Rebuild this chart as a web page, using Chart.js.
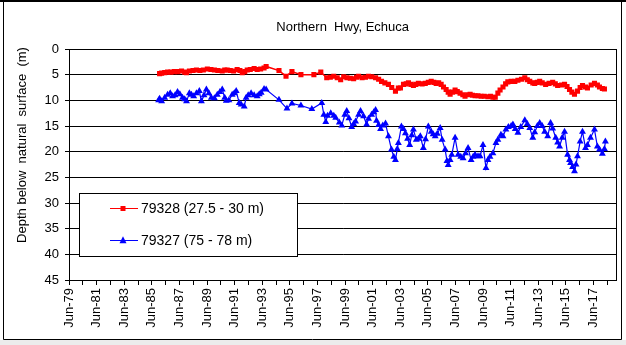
<!DOCTYPE html>
<html>
<head>
<meta charset="utf-8">
<script src="https://cdn.jsdelivr.net/npm/chart.js"></script>
<style>
  html, body { margin: 0; padding: 0; background: #fff; }
  #wrap { width: 626px; height: 345px; }
</style>
</head>
<body>
<div id="wrap"><canvas id="depthChart" width="626" height="345"></canvas></div>
<script>
// chart text
const chartTitle = 'Northern  Hwy, Echuca';
const yTitle = 'Depth below  natural  surface  (m)';
const xTickLabels = ['Jun-79', 'Jun-81', 'Jun-83', 'Jun-85', 'Jun-87', 'Jun-89', 'Jun-91', 'Jun-93',
  'Jun-95', 'Jun-97', 'Jun-99', 'Jun-01', 'Jun-03', 'Jun-05', 'Jun-07', 'Jun-09', 'Jun-11',
  'Jun-13', 'Jun-15', 'Jun-17'];
const yTicks = [0, 5, 10, 15, 20, 25, 30, 35, 40, 45];

// bore 79328 (27.5 - 30 m), decimal years and depth (m)
const redName = '79328 (27.5 - 30 m)';
const redYears = [1985.98, 1986.13, 1986.35, 1986.56, 1986.80, 1987.05, 1987.30, 1987.57, 1987.80, 1987.93,
  1988.14, 1988.40, 1988.65, 1988.90, 1989.15, 1989.44, 1989.70, 1989.95, 1990.20, 1990.52,
  1990.70, 1990.88, 1991.10, 1991.35, 1991.60, 1991.80, 1991.97, 1992.15, 1992.33, 1992.55,
  1992.83, 1993.05, 1993.30, 1993.55, 1993.70, 1994.63, 1995.14, 1995.57, 1996.22, 1997.16,
  1997.66, 1998.09, 1998.35, 1998.60, 1998.85, 1999.10, 1999.32, 1999.55, 1999.80, 2000.04,
  2000.25, 2000.40, 2000.65, 2000.90, 2001.12, 2001.35, 2001.63, 2001.85, 2002.06, 2002.30,
  2002.56, 2002.80, 2003.07, 2003.28, 2003.43, 2003.65, 2003.85, 2004.01, 2004.20, 2004.37,
  2004.55, 2004.73, 2005.00, 2005.23, 2005.45, 2005.66, 2005.85, 2006.02, 2006.20, 2006.38,
  2006.55, 2006.74, 2006.89, 2007.03, 2007.20, 2007.39, 2007.55, 2007.75, 2007.95, 2008.11,
  2008.30, 2008.48, 2008.65, 2008.84, 2009.05, 2009.27, 2009.50, 2009.77, 2009.95, 2010.13,
  2010.30, 2010.49, 2010.65, 2010.86, 2011.05, 2011.21, 2011.45, 2011.72, 2011.94, 2012.20,
  2012.44, 2012.62, 2012.80, 2013.02, 2013.16, 2013.35, 2013.52, 2013.70, 2013.95, 2014.20,
  2014.46, 2014.65, 2014.82, 2015.10, 2015.32, 2015.50, 2015.68, 2015.85, 2016.04, 2016.26,
  2016.45, 2016.62, 2016.84, 2016.98, 2017.25, 2017.49, 2017.70, 2017.85, 2018.06, 2018.21];
const redDepth = [4.8, 4.7, 4.6, 4.5, 4.5, 4.4, 4.4, 4.3, 4.5, 4.6,
  4.3, 4.2, 4.1, 4.2, 4.1, 3.9, 4.0, 4.1, 4.2, 4.3,
  4.1, 4.1, 4.2, 4.3, 4.0, 4.2, 4.6, 4.4, 4.1, 4.0,
  3.8, 4.0, 3.9, 3.7, 3.4, 4.2, 5.3, 4.4, 5.0, 5.0,
  4.5, 5.6, 5.5, 5.3, 5.6, 6.0, 5.4, 5.6, 5.7, 5.8,
  5.5, 5.3, 5.6, 5.5, 5.3, 5.4, 5.6, 5.9, 6.3, 6.6,
  6.9, 7.5, 8.2, 7.6, 7.6, 6.9, 6.8, 6.6, 6.9, 7.1,
  6.9, 6.7, 6.8, 6.7, 6.5, 6.3, 6.5, 6.7, 6.6, 6.9,
  7.4, 7.9, 8.4, 8.8, 8.4, 8.0, 8.3, 8.6, 8.9, 9.2,
  8.9, 8.8, 9.0, 9.1, 9.1, 9.2, 9.2, 9.3, 9.2, 9.4,
  9.4, 8.6, 8.0, 7.4, 6.8, 6.4, 6.3, 6.3, 6.1, 5.9,
  5.6, 6.0, 6.3, 6.6, 6.7, 6.5, 6.3, 6.6, 6.9, 6.7,
  6.5, 6.8, 7.1, 7.0, 6.9, 7.3, 7.9, 8.4, 8.8, 8.2,
  7.5, 7.1, 7.4, 7.6, 7.0, 6.7, 7.0, 7.4, 7.7, 7.8];

// bore 79327 (75 - 78 m)
const blueName = '79327 (75 - 78 m)';
const blueYears = [1985.91, 1985.98, 1986.13, 1986.35, 1986.56, 1986.75, 1986.92, 1987.10, 1987.28, 1987.45,
  1987.64, 1987.80, 1987.93, 1988.14, 1988.29, 1988.45, 1988.65, 1988.86, 1989.01, 1989.20,
  1989.37, 1989.55, 1989.73, 1989.95, 1990.16, 1990.35, 1990.52, 1990.70, 1990.81, 1991.00,
  1991.24, 1991.39, 1991.53, 1991.75, 1991.89, 1992.11, 1992.25, 1992.40, 1992.61, 1992.83,
  1993.05, 1993.20, 1993.34, 1993.55, 1993.70, 1994.63, 1995.21, 1995.57, 1996.22, 1997.01,
  1997.73, 1997.88, 1998.02, 1998.15, 1998.38, 1998.60, 1998.74, 1999.00, 1999.18, 1999.40,
  1999.54, 1999.70, 1999.90, 2000.04, 2000.18, 2000.40, 2000.54, 2000.76, 2000.98, 2001.12,
  2001.34, 2001.50, 2001.63, 2001.70, 2001.85, 2001.99, 2002.15, 2002.35, 2002.56, 2002.78,
  2002.95, 2003.07, 2003.20, 2003.28, 2003.50, 2003.65, 2003.79, 2003.95, 2004.10, 2004.25,
  2004.37, 2004.58, 2004.73, 2004.87, 2005.09, 2005.25, 2005.45, 2005.66, 2005.80, 2005.95,
  2006.10, 2006.31, 2006.45, 2006.67, 2006.80, 2006.89, 2007.03, 2007.15, 2007.39, 2007.61,
  2007.80, 2007.97, 2008.15, 2008.33, 2008.55, 2008.70, 2008.84, 2009.05, 2009.20, 2009.41,
  2009.63, 2009.77, 2009.92, 2010.13, 2010.35, 2010.49, 2010.71, 2010.86, 2011.07, 2011.25,
  2011.45, 2011.58, 2011.75, 2011.94, 2012.15, 2012.44, 2012.62, 2012.80, 2013.02, 2013.16,
  2013.35, 2013.52, 2013.70, 2013.88, 2014.10, 2014.31, 2014.46, 2014.68, 2014.82, 2014.96,
  2015.15, 2015.32, 2015.54, 2015.68, 2015.76, 2015.90, 2016.04, 2016.15, 2016.26, 2016.45,
  2016.62, 2016.84, 2016.98, 2017.20, 2017.49, 2017.70, 2017.85, 2018.06, 2018.21, 2018.28];
const blueDepth = [10.0, 9.7, 10.2, 9.5, 8.9, 8.6, 9.2, 9.0, 8.4, 8.8,
  9.5, 9.8, 10.2, 8.6, 8.9, 9.2, 8.6, 8.2, 10.2, 9.0,
  7.9, 8.6, 9.5, 9.6, 8.9, 8.4, 7.9, 9.5, 10.1, 10.0,
  8.9, 8.6, 8.2, 10.5, 10.8, 11.2, 9.5, 9.0, 8.6, 9.0,
  9.2, 8.8, 8.5, 7.8, 7.9, 9.9, 11.6, 10.6, 11.0, 11.7,
  10.5, 12.8, 14.2, 13.0, 12.5, 13.0, 13.4, 14.3, 14.9, 12.8,
  12.1, 13.5, 15.2, 14.6, 14.1, 12.8, 12.1, 13.1, 14.7, 13.6,
  12.8, 12.3, 11.9, 14.0, 14.8, 15.6, 14.9, 14.5, 17.0, 19.6,
  21.0, 21.6, 19.5, 18.3, 15.1, 15.6, 16.4, 17.5, 18.7, 16.8,
  15.7, 17.7, 17.5, 17.0, 19.3, 17.6, 15.1, 16.1, 16.6, 17.0,
  16.5, 15.4, 17.7, 19.6, 21.8, 22.6, 21.6, 20.6, 17.3, 20.6,
  21.0, 21.3, 20.3, 19.3, 21.6, 21.0, 20.6, 20.9, 20.9, 18.7,
  23.2, 21.6, 21.0, 20.3, 18.3, 17.7, 16.7, 17.0, 15.7, 15.2,
  15.0, 14.7, 15.6, 16.3, 15.2, 13.9, 14.6, 15.4, 17.3, 16.2,
  15.0, 14.4, 15.0, 16.1, 17.0, 14.4, 15.5, 17.3, 18.2, 19.0,
  17.3, 16.1, 20.6, 21.6, 22.2, 23.0, 23.8, 22.5, 20.9, 18.0,
  16.1, 19.3, 18.7, 17.3, 15.7, 19.0, 19.6, 20.4, 19.5, 18.0];

const RED = 'rgb(255,0,0)';
const BLUE = 'rgb(0,0,255)';
const FONT = 'Arial, "Liberation Sans", sans-serif';

// yearly minor ticks starting at Jun-79, every second one labelled
const firstTick = 1979 + 5 / 12;
const tickYears = [];
for (let i = 0; i < xTickLabels.length * 2; i++) tickYears.push(firstTick + i);

function toPoints(xs, ys) {
  return xs.map((x, i) => ({ x: x, y: ys[i] }));
}

function drawSquare(ctx, x, y, s) {
  ctx.fillRect(x - s / 2, y - s / 2, s, s);
}
function drawTriangle(ctx, x, y, s) {
  ctx.beginPath();
  ctx.moveTo(x, y - s * 0.6);
  ctx.lineTo(x + s / 2, y + s * 0.4);
  ctx.lineTo(x - s / 2, y + s * 0.4);
  ctx.closePath();
  ctx.fill();
}

const decor = {
  id: 'decor',
  beforeDraw(chart) {
    const ctx = chart.ctx;
    ctx.save();
    ctx.fillStyle = '#fff';
    ctx.fillRect(0, 0, chart.width, chart.height);
    ctx.restore();
  },
  afterDraw(chart) {
    const ctx = chart.ctx;
    const a = chart.chartArea;
    ctx.save();

    // plot frame
    ctx.strokeStyle = '#000';
    ctx.lineWidth = 1;
    ctx.strokeRect(Math.round(a.left) + 0.5, Math.round(a.top) + 0.5,
      Math.round(a.right - a.left), Math.round(a.bottom - a.top));

    // title
    ctx.fillStyle = '#000';
    ctx.font = '13px ' + FONT;
    ctx.textAlign = 'center';
    ctx.textBaseline = 'middle';
    ctx.fillText(chartTitle, (a.left + a.right) / 2, 27);

    // y axis title
    ctx.save();
    ctx.translate(22, 145);
    ctx.rotate(-Math.PI / 2);
    ctx.fillText(yTitle, 0, 0);
    ctx.restore();

    // legend box
    ctx.fillStyle = '#fff';
    ctx.fillRect(79.5, 193.5, 218, 63);
    ctx.strokeStyle = '#000';
    ctx.strokeRect(79.5, 193.5, 218, 63);
    const rows = [
      { name: redName, color: RED, y: 208, shape: 'sq' },
      { name: blueName, color: BLUE, y: 240, shape: 'tri' }
    ];
    ctx.font = '14px ' + FONT;
    ctx.textAlign = 'left';
    rows.forEach(r => {
      ctx.strokeStyle = r.color;
      ctx.beginPath();
      ctx.moveTo(110, r.y + 0.5);
      ctx.lineTo(138, r.y + 0.5);
      ctx.stroke();
      ctx.fillStyle = r.color;
      if (r.shape === 'sq') drawSquare(ctx, 123, r.y + 0.5, 5);
      else drawTriangle(ctx, 123, r.y + 0.5, 7);
      ctx.fillStyle = '#000';
      ctx.fillText(r.name, 141, r.y + 1);
    });

    // outer border of the picture
    ctx.fillStyle = '#000';
    ctx.fillRect(0, 0, chart.width, 2);
    ctx.strokeStyle = '#000';
    ctx.beginPath();
    ctx.moveTo(3.5, 2); ctx.lineTo(3.5, 339.5);
    ctx.lineTo(621.5, 339.5); ctx.lineTo(621.5, 2);
    ctx.stroke();
    ctx.fillStyle = '#ececec';
    ctx.fillRect(0, 340, chart.width, chart.height - 340);
    ctx.restore();
  }
};

Chart.defaults.font.family = FONT;
Chart.defaults.color = '#000';

new Chart(document.getElementById('depthChart'), {
  type: 'line',
  data: {
    datasets: [
      {
        label: redName,
        data: toPoints(redYears, redDepth),
        borderColor: RED,
        backgroundColor: RED,
        borderWidth: 1.5,
        pointStyle: 'rect',
        pointRadius: 3.6,
        pointBorderWidth: 0,
        tension: 0
      },
      {
        label: blueName,
        data: toPoints(blueYears, blueDepth),
        borderColor: BLUE,
        backgroundColor: BLUE,
        borderWidth: 1.2,
        pointStyle: 'triangle',
        pointRadius: 4,
        pointBorderWidth: 0,
        tension: 0
      }
    ]
  },
  options: {
    responsive: false,
    animation: false,
    layout: {
      padding: { left: 0, top: 49, right: 7, bottom: 0 }
    },
    plugins: {
      legend: { display: false },
      title: { display: false },
      tooltip: { enabled: false }
    },
    scales: {
      x: {
        type: 'linear',
        min: firstTick,
        max: 2019.07,
        afterBuildTicks: axis => {
          axis.ticks = tickYears.map(v => ({ value: v }));
        },
        afterFit: scale => { scale.height = 65; },
        ticks: {
          autoSkip: false,
          minRotation: 90,
          maxRotation: 90,
          padding: 3,
          color: '#000',
          font: { size: 13 },
          callback: (value, index) => (index % 2 === 0 ? xTickLabels[index / 2] : '')
        },
        grid: {
          drawOnChartArea: false,
          drawTicks: true,
          tickLength: 5,
          color: '#000'
        },
        border: { color: '#000' }
      },
      y: {
        reverse: true,
        min: 0,
        max: 45,
        afterBuildTicks: axis => {
          axis.ticks = yTicks.map(v => ({ value: v }));
        },
        afterFit: scale => { scale.width = 69; },
        ticks: {
          color: '#000',
          font: { size: 13 },
          padding: 6
        },
        grid: {
          color: '#000',
          lineWidth: 1,
          tickLength: 4
        },
        border: { color: '#000' }
      }
    }
  },
  plugins: [decor]
});
</script>
</body>
</html>
